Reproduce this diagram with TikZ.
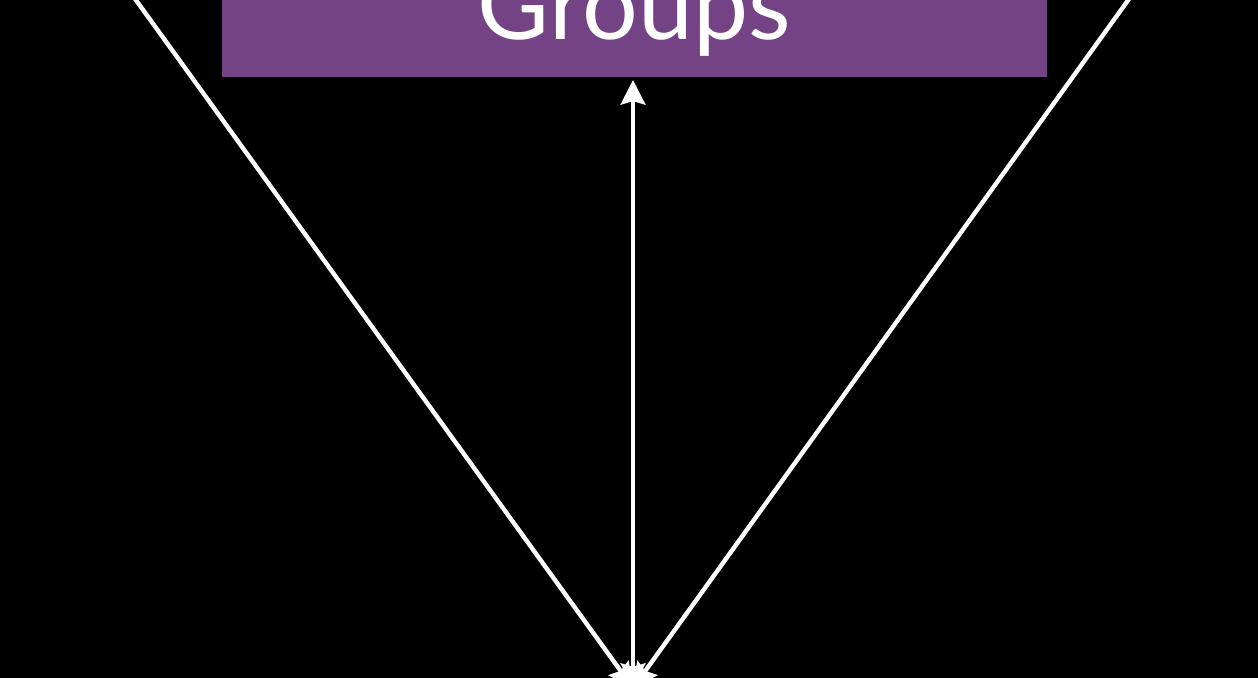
\documentclass[tikz,border=0pt]{standalone}
\usepackage{fontspec}
\setmainfont{Lato}
\usetikzlibrary{arrows.meta,positioning}
\definecolor{grouppurple}{HTML}{744385}

\begin{document}
\begin{tikzpicture}[x=0.02cm,y=-0.02cm,
  every node/.style={font=\fontsize{56}{60}\selectfont},
  groupbox/.style={fill=grouppurple,text=white,inner sep=0pt,align=center,
    text width=16.5cm,text height=2.4cm,text depth=0.74cm},
  link/.style={draw=white,line width=2.5pt,
    -{Stealth[length=14pt,width=14pt,inset=2pt]}}]
\fill[black] (0,0) rectangle (1258,678);
\useasboundingbox (0,0) rectangle (1258,678);
\clip (0,0) rectangle (1258,678);
\node[groupbox,anchor=south] (groups) at (634.5,77) {Groups};
\coordinate (left) at (107,-40);
\coordinate (right) at (1157,-40);
\coordinate (bottom) at (633,688);
\draw[link] (left) -- (bottom);
\draw[link] (right) -- (bottom);
\draw[link,{Stealth[length=14pt,width=14pt,inset=2pt]}-{Stealth[length=14pt,width=14pt,inset=2pt]},shorten <=1.7pt] (groups.south -| bottom) -- (bottom);
\end{tikzpicture}
\end{document}
